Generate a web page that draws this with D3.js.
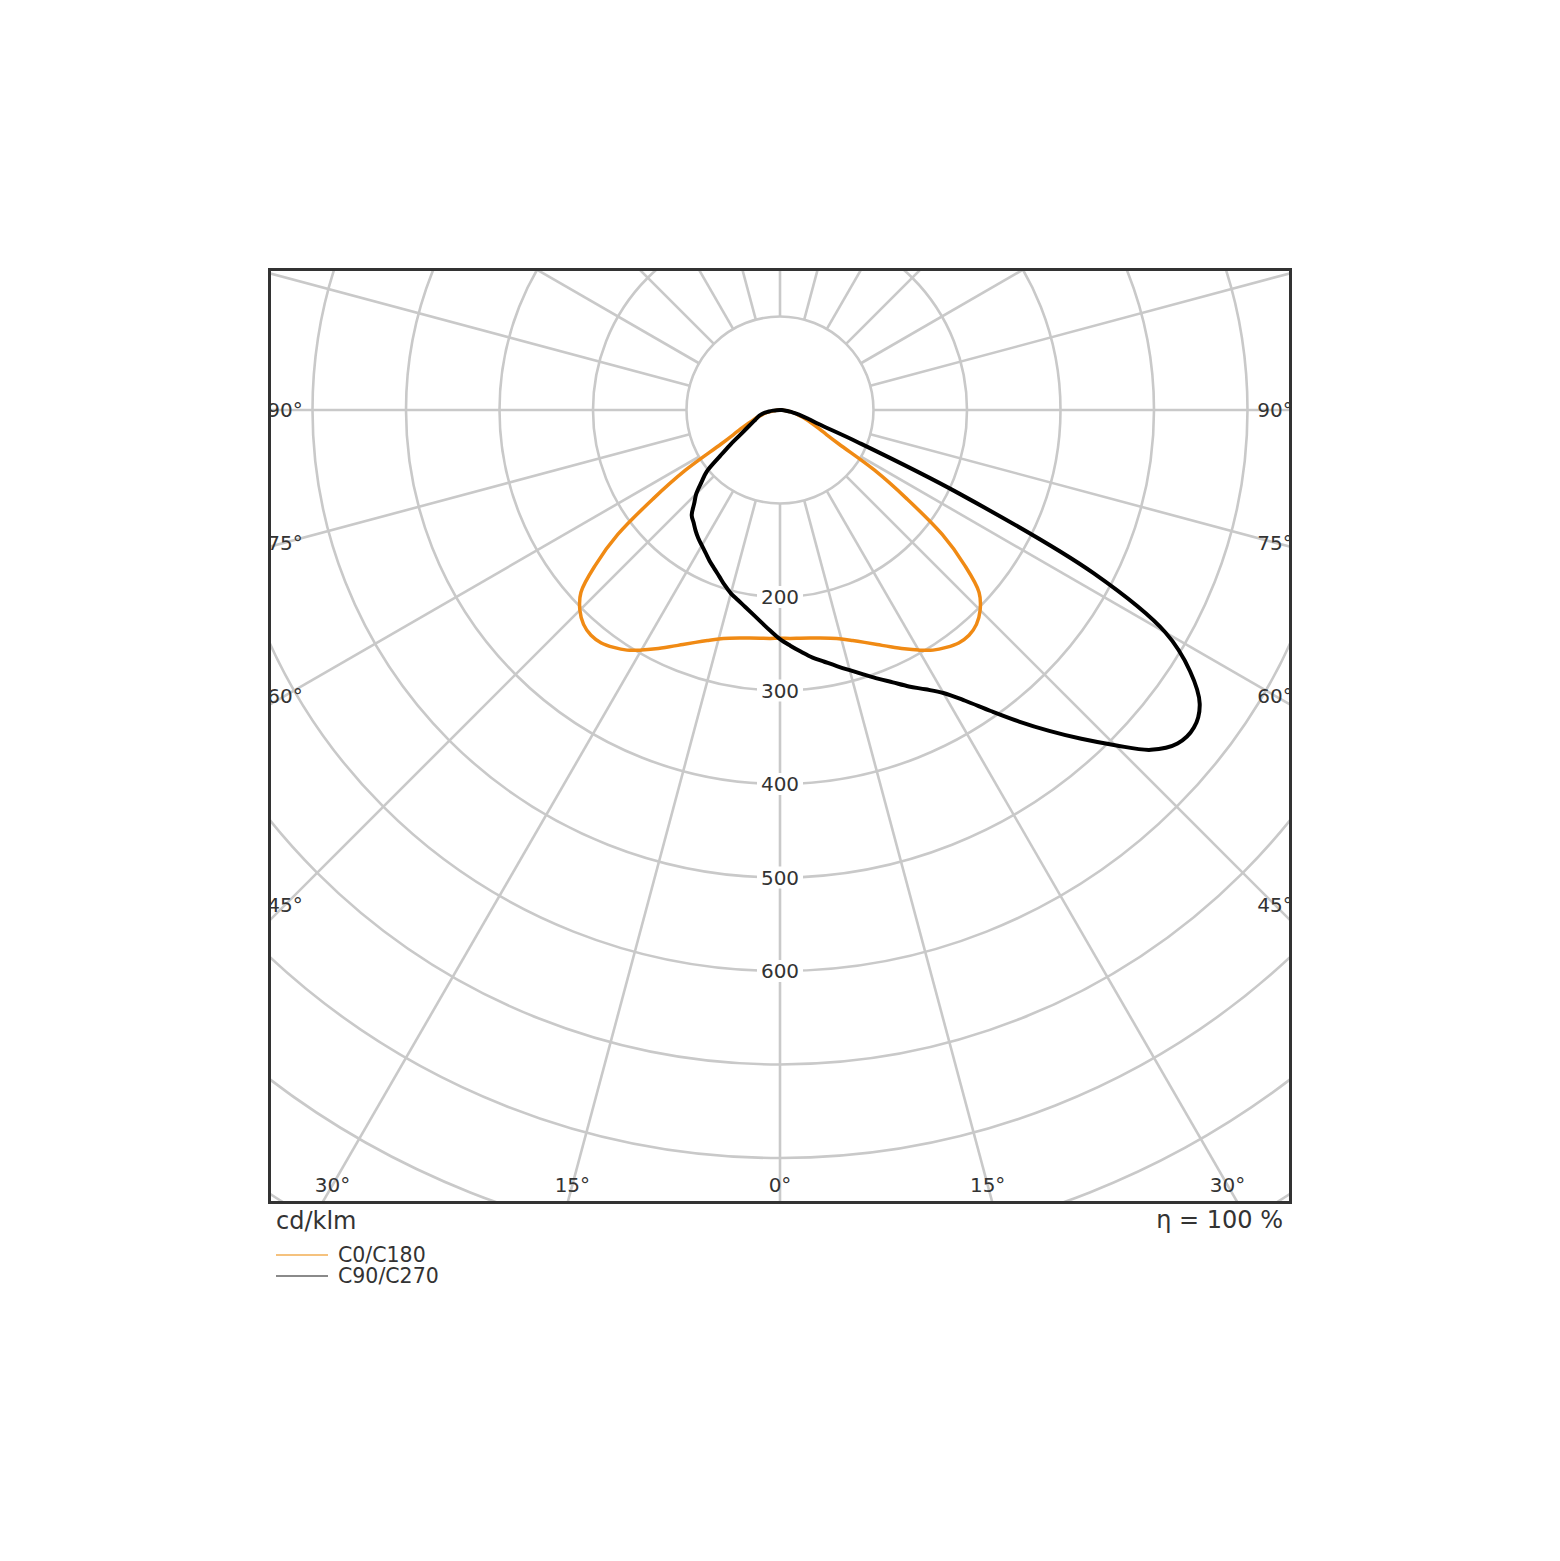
<!DOCTYPE html>
<html><head><meta charset="utf-8">
<script src="https://cdn.jsdelivr.net/npm/d3@7"></script>
<style>html,body{margin:0;padding:0;background:#fff}svg{display:block}</style>
</head><body>
<svg id="chart" width="1560" height="1561"></svg>
<script>
// ---- data (cd/klm) ----
const gammaAngles = [0,2.5,5,7.5,10,12.5,15,17.5,20,22.5,25,27.5,30,32.5,35,37.5,40,42.5,45,47.5,50,52.5,55,57.5,60,62.5,65,67.5,70,72.5,75,77.5,80,82.5,85,87.5,90];
const c0Values   = [244,244.5,245,246,247.5,250,253.5,258.5,264.5,271.5,279.5,288,296.5,304.5,310,314,314.5,311,302.7,288.8,257.2,218.7,165.7,119.9,72.7,54.4,44,36,30,25,20,16,12,8,5,2,0];
const c180Values = [244,244.5,245,246,247.5,250,253.5,258.5,264.5,271.5,279.5,288,296.5,304.5,310,314,314.5,311,302.7,288.8,257.2,218.7,165.7,119.9,72.7,54.4,44,36,30,25,20,16,12,8,5,2,0];
const c90Values  = [245,252.3,259.6,267.1,273.4,280.5,288.1,296.4,305.7,315.3,326.2,336.8,349.5,368.7,393,420,448,477,507,538,555,558,548,520,476,378,211,90,44,32,24,17,12,8,5,2,0];
const c270Values = [245,236.4,228,220.5,213.9,208.2,203,196.5,189.6,183.6,178.1,172.3,167.2,162.6,157.4,151.8,146.9,135.9,126.6,113.7,102.1,80.6,65.3,52.4,43.8,37.7,33.2,29.6,26.9,24.6,22.7,19.7,16.3,11.9,7.5,3.5,0];
const radialTickValues = [200,300,400,500,600];
const gridCircleValues = [100,200,300,400,500,600,700,800,900,1000,1100,1200];
const gridSpokeAngles = [0,15,30,45,60,75,90,105,120,135,150,165,180,195,210,225,240,255,270,285,300,315,330,345];
const angleLabelValues = [0,15,30,45,60,75,90];
const legendNames = ["C0/C180","C90/C270"];
const unitText = "cd/klm";
const efficiencyText = "η = 100 %";

// ---- layout ----
const W = 1560, H = 1561;
const frame = {x0: 269.5, y0: 269.5, x1: 1290.5, y1: 1202.5};
const cx = 780, cy = 410;
const rScale = d3.scaleLinear().domain([0, 100]).range([0, 93.5]);
const rad = d => d * Math.PI / 180;
const FONT = "'DejaVu Sans', Verdana, sans-serif";

const svg = d3.select("#chart");
svg.append("rect").attr("width", W).attr("height", H).attr("fill", "#fff");

svg.append("defs").append("clipPath").attr("id", "clip")
  .append("rect")
  .attr("x", frame.x0).attr("y", frame.y0)
  .attr("width", frame.x1 - frame.x0).attr("height", frame.y1 - frame.y0);

const clipG = svg.append("g").attr("clip-path", "url(#clip)");
const plot = clipG.append("g").attr("transform", `translate(${cx},${cy})`);

// grid circles
plot.selectAll("circle.grid").data(gridCircleValues).join("circle")
  .attr("class", "grid")
  .attr("r", d => rScale(d))
  .attr("fill", "none").attr("stroke", "#c9c9c9").attr("stroke-width", 2.6);

// spokes (from the first circle outwards)
const rIn = rScale(gridCircleValues[0]), rOut = rScale(gridCircleValues[gridCircleValues.length - 1]);
plot.selectAll("line.spoke").data(gridSpokeAngles).join("line")
  .attr("class", "spoke")
  .attr("x1", d => rIn * Math.sin(rad(d))).attr("y1", d => rIn * Math.cos(rad(d)))
  .attr("x2", d => rOut * Math.sin(rad(d))).attr("y2", d => rOut * Math.cos(rad(d)))
  .attr("stroke", "#c9c9c9").attr("stroke-width", 2.6);

// radial value labels with white boxes
const tickG = plot.selectAll("g.rtick").data(radialTickValues).join("g")
  .attr("class", "rtick")
  .attr("transform", d => `translate(0,${rScale(d)})`);
tickG.append("rect")
  .attr("x", -23).attr("y", -11).attr("width", 46).attr("height", 22)
  .attr("fill", "#fff");
tickG.append("text")
  .attr("text-anchor", "middle").attr("dy", "0.36em")
  .attr("font-family", FONT).attr("font-size", 20).attr("fill", "#333")
  .text(d => d);

// angle labels at the inner edge of the frame
const halfW = 495, halfDown = 775;
function labelPos(g, side) {
  const s = Math.sin(rad(g)), c = Math.cos(rad(g));
  const t = Math.min(s > 1e-9 ? halfW / s : Infinity, c > 1e-9 ? halfDown / c : Infinity);
  return [side * t * s, t * c];
}
const angleLabelData = [];
angleLabelValues.forEach(g => {
  if (g === 0) angleLabelData.push({g, p: labelPos(g, 1)});
  else { angleLabelData.push({g, p: labelPos(g, -1)}); angleLabelData.push({g, p: labelPos(g, 1)}); }
});
plot.selectAll("text.alabel").data(angleLabelData).join("text")
  .attr("class", "alabel")
  .attr("x", d => d.p[0]).attr("y", d => d.p[1])
  .attr("text-anchor", "middle").attr("dy", "0.36em")
  .attr("font-family", FONT).attr("font-size", 20).attr("fill", "#333")
  .text(d => d.g + "°");

// photometric curves
function planePoints(rightVals, leftVals) {
  const pts = [];
  gammaAngles.forEach((g, i) => pts.push([Math.PI - rad(g), rScale(rightVals[i])]));
  for (let i = gammaAngles.length - 2; i >= 1; i--) pts.push([Math.PI + rad(gammaAngles[i]), rScale(leftVals[i])]);
  return pts;
}
const radialLine = d3.lineRadial()
  .angle(d => d[0]).radius(d => d[1])
  .curve(d3.curveCatmullRomClosed.alpha(0.5));

plot.append("path")
  .attr("d", radialLine(planePoints(c0Values, c180Values)))
  .attr("fill", "none").attr("stroke", "#f08a14").attr("stroke-width", 3.5)
  .attr("stroke-linejoin", "round");
plot.append("path")
  .attr("d", radialLine(planePoints(c90Values, c270Values)))
  .attr("fill", "none").attr("stroke", "#000").attr("stroke-width", 4)
  .attr("stroke-linejoin", "round");

// frame
svg.append("rect")
  .attr("x", frame.x0).attr("y", frame.y0)
  .attr("width", frame.x1 - frame.x0).attr("height", frame.y1 - frame.y0)
  .attr("fill", "none").attr("stroke", "#333").attr("stroke-width", 3);

// texts below
svg.append("text").attr("x", 276).attr("y", 1229)
  .attr("font-family", FONT).attr("font-size", 24).attr("fill", "#333").text(unitText);
svg.append("text").attr("x", 1283).attr("y", 1228).attr("text-anchor", "end")
  .attr("font-family", FONT).attr("font-size", 24).attr("fill", "#333").text(efficiencyText);

// legend
const legendColors = ["#f5c27e", "#8a8a8a"];
const legG = svg.selectAll("g.leg").data(legendNames).join("g")
  .attr("class", "leg")
  .attr("transform", (d, i) => `translate(0,${1255 + i * 21})`);
legG.append("line").attr("x1", 276).attr("x2", 328).attr("y1", 0).attr("y2", 0)
  .attr("stroke", (d, i) => legendColors[i]).attr("stroke-width", 1.8);
legG.append("text").attr("x", 338).attr("y", 0).attr("dy", "0.36em")
  .attr("font-family", FONT).attr("font-size", 20.5).attr("fill", "#333").text(d => d);
</script>
</body></html>
